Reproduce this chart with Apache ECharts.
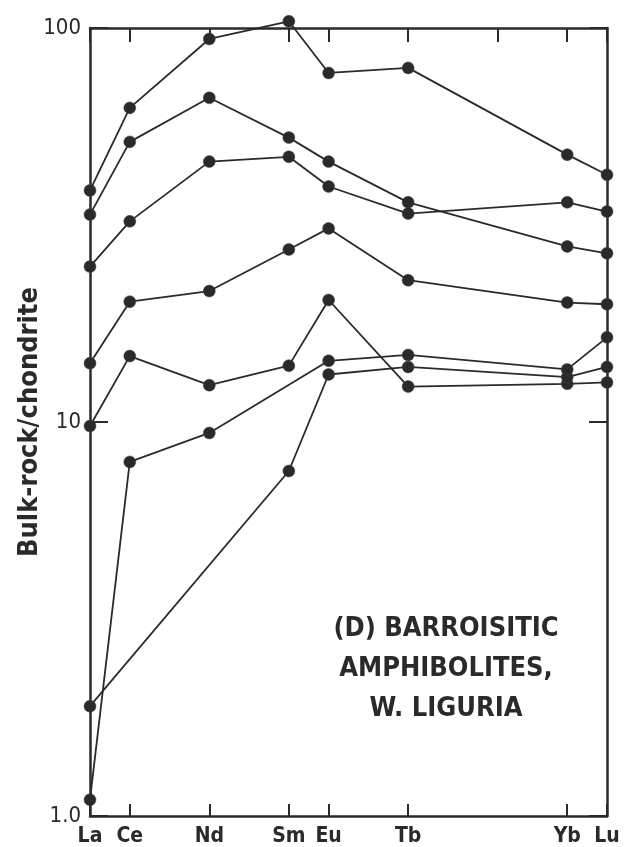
<!DOCTYPE html>
<html>
<head>
<meta charset="utf-8">
<script src="https://cdn.jsdelivr.net/npm/echarts@6/dist/echarts.min.js"></script>
<style>
html,body{margin:0;padding:0;background:#fff;}
#chart{width:635px;height:847px;}
</style>
</head>
<body>
<div id="chart"></div>
<script>
// REE element labels and their positions along the x axis
const elements = ['La', 'Ce', 'Nd', 'Sm', 'Eu', 'Tb', 'Yb', 'Lu'];
const positions = [0, 1, 3, 5, 6, 8, 12, 13];
const topExtraTicks = [10.25];
const yTickLabels = {1: '1.0', 10: '10', 100: '100'};

// chondrite-normalised values (null = not determined)
const sampleA = [38.7, 62.7, 93.8, 104, 76.9, 79.2, 47.7, 42.4];
const sampleB = [33.6, 51.4, 66.5, 52.7, 45.8, 36.1, 27.9, 26.8];
const sampleC = [24.8, 32.3, 45.8, 47.1, 39.6, 33.8, 36.1, 34.2];
const sampleD = [14.1, 20.2, 21.5, 27.4, 31.0, 22.9, 20.1, 19.9];
const sampleE = [9.77, 14.7, 12.4, 13.9, 20.4, 12.3, 12.5, 12.6];
const sampleF = [1.90, null, null, 7.51, 13.2, 13.8, 13.0, 13.8];
const sampleG = [1.10, 7.92, 9.38, null, 14.3, 14.8, 13.6, 16.4];

const samples = [sampleA, sampleB, sampleC, sampleD, sampleE, sampleF, sampleG];

const INK = '#2a2a2a';
const FONT = "'Liberation Sans Narrow', 'DejaVu Sans Condensed', 'Liberation Sans', sans-serif";

function toData(vals) {
  const out = [];
  vals.forEach((v, i) => { if (v !== null) out.push([positions[i], v]); });
  return out;
}

const chart = echarts.init(document.getElementById('chart'), null, {renderer: 'canvas'});

const option = {
  animation: false,
  backgroundColor: '#fff',
  grid: {left: 90, right: 28, top: 28, bottom: 29, containLabel: false},
  xAxis: [
    {
      type: 'value', position: 'bottom', min: 0, max: 13,
      axisLine: {show: true, onZero: false, lineStyle: {color: INK, width: 2.5}},
      axisTick: {show: true, inside: true, length: 12, customValues: positions, lineStyle: {color: INK, width: 2}},
      axisLabel: {
        show: true, customValues: positions, margin: 10,
        color: INK, fontFamily: FONT, fontWeight: 'bold', fontSize: 21,
        formatter: function (v) { const i = positions.indexOf(v); return i >= 0 ? elements[i] : ''; }
      },
      splitLine: {show: false}
    },
    {
      type: 'value', position: 'top', min: 0, max: 13,
      axisLine: {show: true, onZero: false, lineStyle: {color: INK, width: 2.5}},
      axisTick: {show: true, inside: true, length: 14, customValues: positions.concat(topExtraTicks), lineStyle: {color: INK, width: 2}},
      axisLabel: {show: false},
      splitLine: {show: false}
    }
  ],
  yAxis: [
    {
      type: 'log', logBase: 10, min: 1, max: 100, position: 'left',
      name: 'Bulk-rock/chondrite', nameLocation: 'middle', nameGap: 47, nameRotate: 90,
      nameMoveOverlap: false,
      nameTextStyle: {color: INK, fontFamily: FONT, fontWeight: 'bold', fontSize: 27},
      axisLine: {show: true, onZero: false, lineStyle: {color: INK, width: 2.5}},
      axisTick: {show: true, inside: true, length: 18, lineStyle: {color: INK, width: 2}},
      axisLabel: {
        show: true, margin: 9, color: INK, fontFamily: FONT, fontSize: 22,
        formatter: function (v) { return yTickLabels[v] || ''; }
      },
      minorTick: {show: false},
      splitLine: {show: false}
    },
    {
      type: 'log', logBase: 10, min: 1, max: 100, position: 'right',
      axisLine: {show: true, onZero: false, lineStyle: {color: INK, width: 2.5}},
      axisTick: {show: true, inside: true, length: 18, lineStyle: {color: INK, width: 2}},
      axisLabel: {show: false},
      splitLine: {show: false}
    }
  ],
  series: samples.map(function (vals, k) {
    return {
      name: 'Sample ' + String.fromCharCode(65 + k),
      type: 'line',
      xAxisIndex: 0, yAxisIndex: 0,
      data: toData(vals),
      clip: false,
      symbol: 'circle', symbolSize: 12,
      itemStyle: {color: INK, borderColor: '#444', borderWidth: 0.5},
      lineStyle: {color: INK, width: 1.8},
      z: 3
    };
  }),
  graphic: [
    {
      type: 'text', x: 446, y: 609,
      style: {
        text: '(D) BARROISITIC\nAMPHIBOLITES,\nW. LIGURIA',
        textAlign: 'center', textVerticalAlign: 'top', fill: INK,
        font: "bold 27px 'Liberation Sans Narrow', 'DejaVu Sans Condensed', sans-serif",
        lineHeight: 40
      }
    }
  ]
};

chart.setOption(option);
</script>
</body>
</html>
